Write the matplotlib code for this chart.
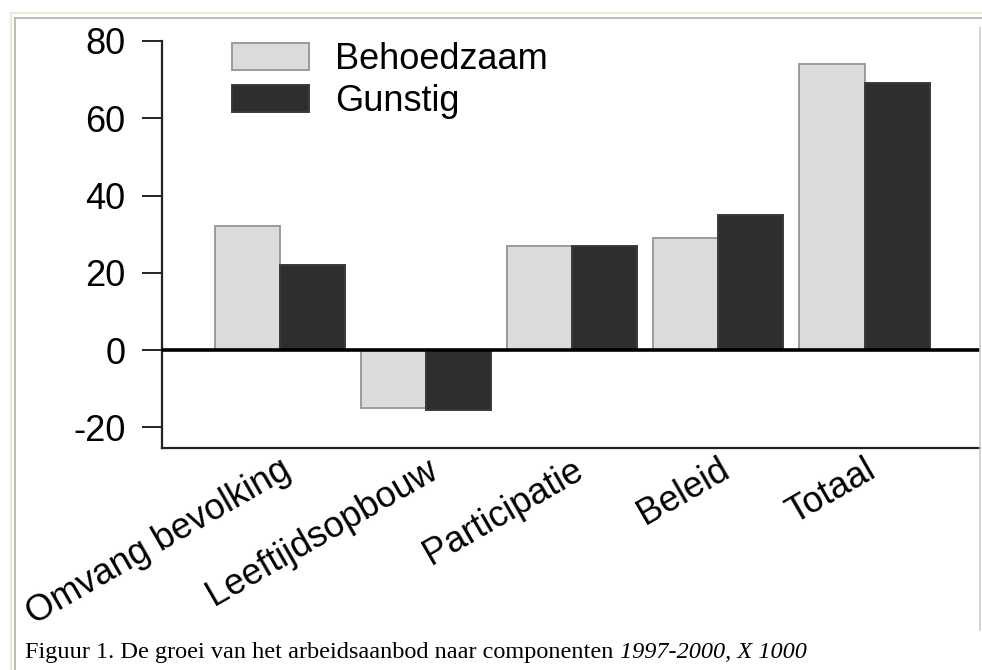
import numpy as np
import matplotlib.pyplot as plt
from matplotlib.lines import Line2D

# Data (x 1000 persons)
categories = ['Omvang bevolking', 'Leeftijdsopbouw', 'Participatie', 'Beleid', 'Totaal']
behoedzaam = [32, -15, 27, 29, 74]
gunstig = [22, -15.5, 27, 35, 69]
series_names = ['Behoedzaam', 'Gunstig']
y_ticks = [-20, 0, 20, 40, 60, 80]
caption_plain = 'Figuur 1. De groei van het arbeidsaanbod naar componenten '
caption_italic = '1997-2000, X 1000'

plt.rcParams['font.family'] = ['Liberation Sans', 'DejaVu Sans']

W, H = 982, 670
fig = plt.figure(figsize=(W / 100, H / 100), dpi=100)
fig.patch.set_facecolor('white')

# Axes placed in pixel terms
left, right, top, bottom = 162, 980, 41, 448
ax = fig.add_axes([left / W, 1 - bottom / H, (right - left) / W, (bottom - top) / H])

x = np.arange(len(categories))
width = 0.445
ax.bar(x - width / 2, behoedzaam, width, color='#dcdbdc', edgecolor='#9b9b9b',
       linewidth=1.4, label=series_names[0], zorder=2)
ax.bar(x + width / 2, gunstig, width, color='#2e2e2e', edgecolor='#3a3a3a',
       linewidth=1.4, label=series_names[1], zorder=2)

ax.axhline(0, color='black', linewidth=2.6, zorder=3)

ax.set_xlim(-0.805, 4.79)
ax.set_ylim(-25.36, 80)
ax.set_yticks(y_ticks)
ax.set_yticklabels([str(v) for v in y_ticks], fontsize=26)
ax.tick_params(axis='y', direction='out', length=14.4, width=1.4, pad=12, color='#222222')
ax.set_xticks(x)
ax.set_xticklabels(categories, fontsize=26, rotation=30, ha='right',
                   rotation_mode='anchor', va='top')
ax.tick_params(axis='x', length=0, pad=3)

for s in ['top', 'right']:
    ax.spines[s].set_visible(False)
for s in ['left', 'bottom']:
    ax.spines[s].set_linewidth(1.6)
    ax.spines[s].set_color('#222222')

ax.legend(loc='upper left', bbox_to_anchor=(232 / W, 1 - 42 / H),
          bbox_transform=fig.transFigure, frameon=False, fontsize=26,
          handlelength=2.14, handleheight=0.75, handletextpad=0.72,
          labelspacing=0.2, borderpad=0, borderaxespad=0)

# Caption, plain part then italic part
cap_size = 17.5
t = fig.text(25 / W, 1 - 658 / H, caption_plain, family='Liberation Serif',
             fontsize=cap_size, va='baseline', ha='left')
fig.canvas.draw()
bb = t.get_window_extent()
fig.text(bb.x1 / W, 1 - 658 / H, caption_italic, family='Liberation Serif',
         style='italic', fontsize=cap_size, va='baseline', ha='left')

# Page frame lines
def px_line(x0, y0, x1, y1, color, lw):
    fig.add_artist(Line2D([x0 / W, x1 / W], [1 - y0 / H, 1 - y1 / H],
                          transform=fig.transFigure, color=color, linewidth=lw))

px_line(10.5, 12.5, 10.5, 670, '#ece9d8', 1.5)
px_line(10.5, 12.5, 982, 12.5, '#ece9d8', 1.5)
px_line(14.5, 18, 14.5, 670, '#b4b2a8', 1.2)
px_line(14.5, 18, 982, 18, '#b4b2a8', 1.2)
px_line(979.5, 28, 979.5, 630, '#cccccc', 1.2)

fig.savefig('out.png', dpi=100)
